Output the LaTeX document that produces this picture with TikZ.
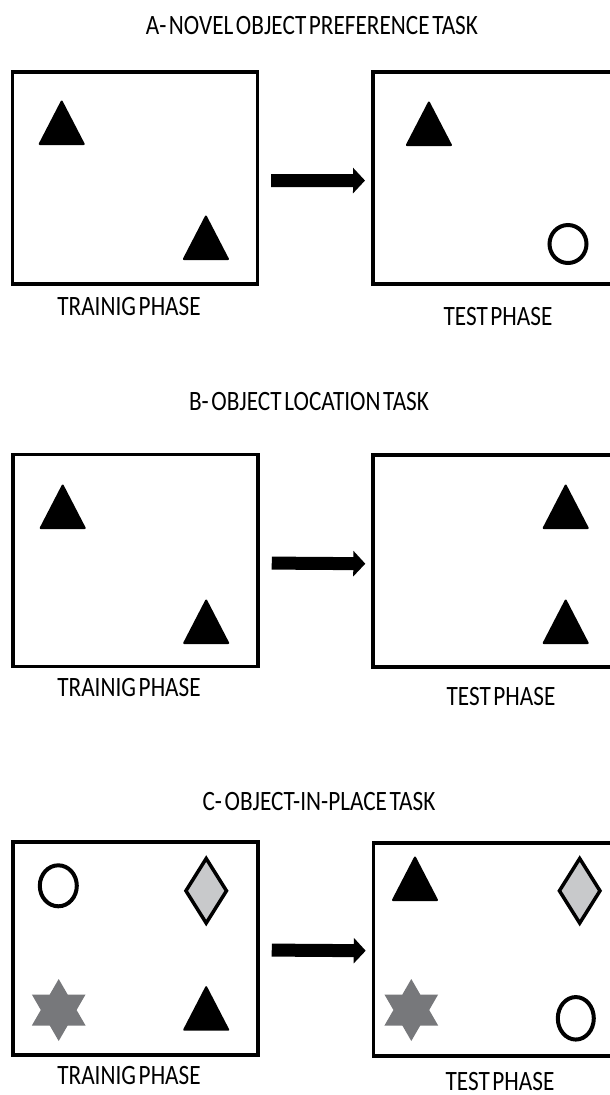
\documentclass[tikz,border=0pt]{standalone}
\usepackage{fontspec}
\setmainfont{Carlito}[WordSpace=0.5]
\usepackage{graphicx}
\usetikzlibrary{shapes.geometric,arrows.meta}
\definecolor{lightgr}{HTML}{C8C9CB}
\definecolor{stargr}{HTML}{77787B}
\newcommand\sqz[1]{\scalebox{0.83}[1]{#1}}
\tikzset{
  box/.style={draw, line width=3.5pt, inner sep=0pt, minimum width=245pt, minimum height=212pt},
  ttl/.style={anchor=base, inner sep=0pt, font=\fontsize{28}{30}\selectfont},
  fat/.style={line width=13pt, -{Triangle[width=25pt,length=12pt]}, shorten <=12pt, shorten >=6pt},
  ring/.style={ellipse, draw, line width=4pt, inner sep=0pt},
  dia/.style={diamond, draw, fill=lightgr, line width=3.5pt, inner sep=0pt, minimum width=42pt, minimum height=66pt},
  tri/.pic={\fill[draw, line width=2pt, line join=round] (-22,-1) -- (0,-43.5) -- (22,-1) -- cycle;},
  hexstar/.pic={\fill[stargr] (90:31) -- (120:17.9) -- (150:31) -- (180:17.9) -- (210:31) -- (240:17.9)
      -- (270:31) -- (300:17.9) -- (330:31) -- (0:17.9) -- (30:31) -- (60:17.9) -- cycle;}
}
\begin{document}
\begin{tikzpicture}[x=1pt,y=-1pt]
\useasboundingbox (0,0) rectangle (610,1095);
\clip (0,0) rectangle (610,1095);

% ---------- A ----------
\node[ttl] (titleA) at (312,34.4) {\sqz{A- NOVEL OBJECT PREFERENCE TASK}};
\node[box] (trainA) at (134.9,178) {};
\node[box, minimum width=260pt, anchor=north west] (testA) at (371,70.3) {};
\draw[fat] ([yshift=-2.5pt]trainA.east) -- ([yshift=-2.5pt]testA.west);
\pic (tA1) at (61.7,145) {tri};
\pic (tA2) at (205.9,260) {tri};
\pic (tA3) at (428.9,146) {tri};
\node[ring, minimum width=37pt, minimum height=38pt] (cA) at (568,244) {};
\node[ttl] (lblTrainA) at (129,315.5) {\sqz{TRAINIG PHASE}};
\node[ttl] (lblTestA) at (498,325) {\sqz{TEST PHASE}};

% ---------- B ----------
\node[ttl] (titleB) at (309,410) {\sqz{B- OBJECT LOCATION TASK}};
\node[box] (trainB) at (135.5,560.3) {};
\node[box, minimum width=260pt, anchor=north west] (testB) at (371.3,453.3) {};
\draw[fat] ([yshift=-2.7pt]trainB.east) -- ([yshift=-2.7pt]testB.west);
\pic (tB1) at (62.7,529) {tri};
\pic (tB2) at (206.2,644) {tri};
\pic (tB3) at (565.7,529) {tri};
\pic (tB4) at (565.7,644) {tri};
\node[ttl] (lblTrainB) at (129,696) {\sqz{TRAINIG PHASE}};
\node[ttl] (lblTestB) at (501,705) {\sqz{TEST PHASE}};

% ---------- C ----------
\node[ttl] (titleC) at (319,810.7) {\sqz{C- OBJECT-IN-PLACE TASK}};
\node[box, minimum height=213pt] (trainC) at (135.5,948.5) {};
\node[box, minimum width=260pt, minimum height=213pt, anchor=north west] (testC) at (371.7,841) {};
\draw[fat] ([yshift=-1.5pt]trainC.east) -- ([yshift=-1.5pt]testC.west);
\node[ring, minimum width=37pt, minimum height=41pt] (cC1) at (58.3,885.8) {};
\node[dia] (dC1) at (206.2,890.8) {};
\pic (sC1) at (58.7,1010) {hexstar};
\pic (tC1) at (206.2,1030.7) {tri};
\pic (tC2) at (415,901) {tri};
\node[dia] (dC2) at (579.7,890.8) {};
\pic (sC2) at (411.3,1010) {hexstar};
\node[ring, minimum width=36pt, minimum height=42.5pt] (cC2) at (575.8,1018.3) {};
\node[ttl] (lblTrainC) at (129,1084) {\sqz{TRAINIG PHASE}};
\node[ttl] (lblTestC) at (500,1090.5) {\sqz{TEST PHASE}};
\end{tikzpicture}
\end{document}
